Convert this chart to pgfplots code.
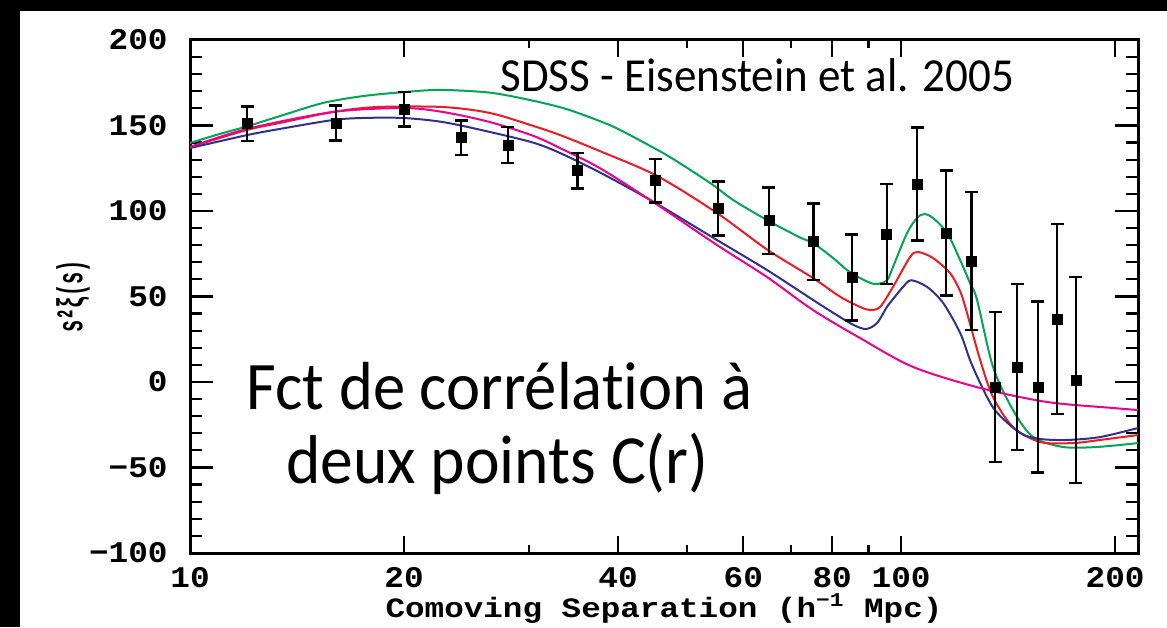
\documentclass[border=0pt]{standalone}
\usepackage{pgfplots}
\pgfplotsset{compat=1.18}
\usepackage{pgfplotstable}
\usepackage{fontspec}
\setmainfont[Ligatures={NoCommon}]{Carlito}
\newfontfamily\gill[FakeStretch=0.95, Ligatures={NoCommon}]{Carlito}
\newfontfamily\pgfont[FakeStretch=1.09]{Liberation Mono}
\newfontfamily\pgxlab[FakeStretch=1.165]{Liberation Mono}
\newfontfamily\pglab[FakeStretch=0.56]{Liberation Mono}

\definecolor{cgreen}{RGB}{0,166,81}
\definecolor{cred}{RGB}{237,28,36}
\definecolor{cblue}{RGB}{46,49,146}
\definecolor{cmag}{RGB}{236,0,140}

% model curves: s [h^-1 Mpc], s^2 xi(s)
\pgfplotstableread{
s y
10 139.8
11 145
12.03 149.5
13.38 155.5
15.39 163.2
17.51 167.2
19.93 169.5
22.47 170.8
26.42 169.2
30.37 164.5
33.91 159.5
37.73 152.5
40.25 147.4
46.89 132.5
53.88 116.4
58.03 106.5
64.78 94.7
72.11 84.5
75.20 81.3
80.25 72.5
83.95 65.5
87.57 60.8
90.5 58
92.52 57.3
95.57 59.5
97.43 67.3
101.96 87.1
105.3 95.9
107.8 98.2
110.9 95.9
116.1 87.1
121.1 71.3
125.0 57.9
127.9 48
134.7 8.8
143.7 -16.4
153.4 -32.2
169.0 -38
188.7 -38
215.4 -35.7
}\green
\pgfplotstableread{
s y
10 137.4
12.03 147.4
13.38 151.5
15.89 157.9
18.32 160.8
22.69 160.8
26.42 157.3
30.37 149.8
33.15 144.4
37.73 135
45.39 120.5
55.11 98.8
64.78 77.5
75.20 60.8
82 50
87.57 43.9
90.46 42.1
93.43 43.9
97.43 55.6
102.97 73.1
105.66 76
110.9 72.5
117.2 63.7
121.1 53
123.5 42
129.2 12.9
134.7 -8.8
143.7 -26.3
156.9 -35.1
174.6 -35.7
190.5 -33.9
215.4 -31
}\red
\pgfplotstableread{
s y
10 136.8
12.03 144.4
13.38 148
15.89 153.2
17.51 154.4
19.93 154.4
22.69 152
26.42 146.2
30.37 140
33.15 133.9
37.73 122.5
44.80 105.5
55.11 83
64.78 65.5
75.20 48
80.25 40.5
85.6 33.5
89.3 31
92.52 34.5
95.57 44
97.43 48.5
100.65 55.6
103.3 59.5
108.8 55.6
114.6 46.2
121.1 28.7
125.0 12.9
129.2 -0.6
135.5 -16.4
147.0 -29.8
156.9 -33.3
171.2 -33.9
190.5 -32.2
215.4 -26.9
}\blue
\pgfplotstableread{
s y
10 137.4
12.03 148
15.89 157.9
19.93 160.2
22.69 157.9
26.42 152
30.37 144
33.15 136.8
37.73 125
44.80 105.3
55.11 80.1
64.78 61.4
75.20 42.1
87.57 25.7
103.97 8.8
129.2 -3.5
160.5 -11.7
198.7 -15.2
215.4 -16.4
}\magenta
% SDSS LRG measurements with 1-sigma errors
\pgfplotstableread{
s v e
12.03 151.0 10.0
16.04 151.5 10.2
20.00 159.5 10.2
24.05 142.8 10.1
28.00 138.6 10.5
35.10 123.5 10.5
45.10 117.7 12.8
55.30 101.3 15.8
65.20 94.3 19.4
75.30 82.0 22.3
85.30 61.0 25.1
95.50 86.5 29.2
105.30 115.8 33.0
115.70 87.1 36.5
125.50 70.8 40.3
135.60 -2.9 43.9
145.60 8.8 48.6
155.80 -2.9 50.1
165.70 36.8 55.6
176.20 1.2 60.2
}\sdss

\begin{document}
\begin{tikzpicture}
\path[use as bounding box] (0,0) rectangle (583.5pt,313.5pt);
\fill[black] (0,0) rectangle (583.5pt,313.5pt);
\fill[white] (10pt,0) rectangle (583.5pt,308pt);

% y ticks and labels
\begin{axis}[
  xmode=log, xmin=10, xmax=215.4, ymin=-100, ymax=200,
  at={(95pt,37pt)}, anchor=south west, scale only axis,
  width=474pt, height=256.5pt,
  axis line style={line width=1.5pt},
  tick align=inside,
  major tick style={line width=1.1pt, black},
  minor tick style={line width=1.1pt, black},
  xtick=\empty,
  ytick={-100,-50,0,50,100,150,200},
  yticklabels={−100,−50,0,50,100,150,200},
  minor ytick={-90,-80,-70,-60,-40,-30,-20,-10,10,20,30,40,60,70,80,90,110,120,130,140,160,170,180,190},
  major tick length=11.5pt, minor tick length=6pt,
  yticklabel style={font=\pgfont\bfseries\fontsize{15}{15}\selectfont, inner sep=0pt, anchor=east, xshift=-11pt},
  ylabel={s²ξ(s)},
  ylabel style={font=\pglab\bfseries\fontsize{18}{18}\selectfont, at={(axis description cs:-0.1234,0.5)}, anchor=center},
]
\end{axis}

% x ticks, curves and measurements
\begin{axis}[
  xmode=log, xmin=10, xmax=215.4, ymin=-100, ymax=200,
  at={(95pt,37pt)}, anchor=south west, scale only axis,
  width=474pt, height=256.5pt,
  axis line style={line width=1.5pt},
  tick align=inside,
  major tick style={line width=1.1pt, black},
  minor tick style={line width=1.1pt, black},
  ytick=\empty,
  xtick={10,20,40,60,80,100,200},
  xticklabels={10,20,40,60,80,100,200},
  minor xtick={30,50,70,90},
  major tick length=8.5pt, minor tick length=4pt,
  xticklabel style={font=\pgfont\bfseries\fontsize{15}{15}\selectfont, inner sep=0pt, text depth=0pt, anchor=north, yshift=-7pt},
  xlabel={Comoving Separation (h\textsuperscript{−1} Mpc)},
  xlabel style={font=\pgxlab\bfseries\fontsize{14}{14}\selectfont, inner sep=0pt, at={(axis description cs:0.5,-0.108)}, anchor=center},
]
\addplot[cgreen, line width=1pt, smooth] table[x=s,y=y] {\green};
\addplot[cred, line width=1pt, smooth] table[x=s,y=y] {\red};
\addplot[cblue, line width=1pt, smooth] table[x=s,y=y] {\blue};
\addplot[cmag, line width=1pt, smooth] table[x=s,y=y] {\magenta};
\addplot[black, only marks, mark=square*, mark size=2.5pt,
  error bars/.cd, y dir=both, y explicit,
  error bar style={line width=1.3pt, black},
  error mark options={rotate=90, mark size=3.25pt, line width=1.3pt, black}]
  table[x=s, y=v, y error=e] {\sdss};
\end{axis}

\node[anchor=base west, inner sep=0pt, font=\gill\fontsize{23.7}{28}\selectfont] at (250pt,267.5pt) {SDSS - Eisenstein et al. 2005};
\node[anchor=base, inner sep=0pt, font=\gill\fontsize{34}{40}\selectfont] at (249.75pt,108.5pt) {Fct de corrélation à};
\node[anchor=base, inner sep=0pt, font=\gill\fontsize{34.5}{40}\selectfont] at (248.75pt,72pt) {deux points C(r)};
\end{tikzpicture}
\end{document}
